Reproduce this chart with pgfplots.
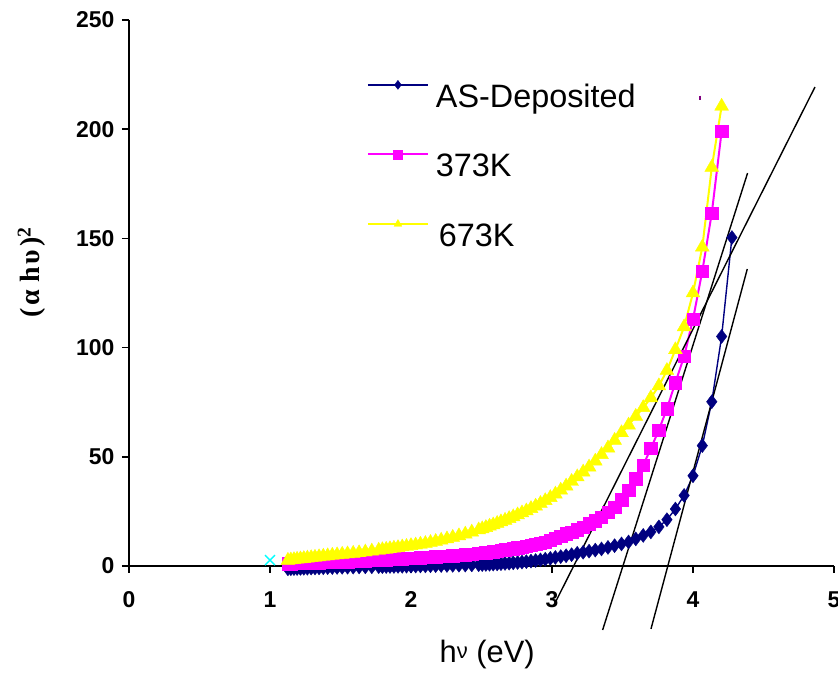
\documentclass[border=0pt]{standalone}
\usepackage{fontspec}
\setmainfont{Liberation Sans}
\newfontfamily\serifb{Liberation Serif}
\usepackage{pgfplots}
\usepackage{pgfplotstable}
\pgfplotsset{compat=1.18}

\definecolor{navyb}{RGB}{0,0,128}
\definecolor{pinkm}{RGB}{255,0,255}
\definecolor{yellowy}{RGB}{255,255,0}
\definecolor{cyanx}{RGB}{0,255,255}
\definecolor{purplex}{RGB}{128,0,128}

% hv (eV), (alpha h v)^2 for the three films
\pgfplotstableread{
x     asdep  k373   k673
1.127 -1.3   1.0    2.6
1.148 -1.25  1.1    2.75
1.170 -1.2   1.2    2.9
1.192 -1.15  1.25   3.1
1.216 -1.1   1.3    3.25
1.240 -1.05  1.35   3.4
1.265 -1.0   1.4    3.6
1.292 -0.95  1.45   3.8
1.319 -0.9   1.5    4.0
1.348 -0.85  1.55   4.2
1.378 -0.8   1.65   4.45
1.409 -0.75  1.7    4.65
1.442 -0.7   1.8    4.9
1.476 -0.65  1.85   5.1
1.512 -0.6   1.95   5.35
1.550 -0.55  2.05   5.55
1.590 -0.5   2.15   5.8
1.632 -0.45  2.3    6.05
1.676 -0.4   2.4    6.4
1.722 -0.35  2.55   6.8
1.771 -0.3   2.7    7.2
1.797 -0.28  2.8    7.45
1.824 -0.25  2.9    7.65
1.851 -0.22  3.0    7.9
1.879 -0.2   3.1    8.15
1.908 -0.17  3.2    8.4
1.938 -0.14  3.35   8.7
1.968 -0.1   3.45   8.95
2.000 -0.06  3.6    9.3
2.033 -0.02  3.7    9.6
2.067 0.02   3.85   9.95
2.102 0.06   4.0    10.3
2.138 0.1    4.1    10.75
2.175 0.15   4.25   11.25
2.214 0.2    4.4    11.8
2.255 0.25   4.6    12.4
2.296 0.3    4.75   13.1
2.340 0.36   4.95   13.8
2.385 0.42   5.2    14.6
2.431 0.5    5.5    15.5
2.480 0.6    5.8    16.5
2.505 0.66   5.95   17.0
2.531 0.72   6.15   17.6
2.557 0.8    6.35   18.2
2.583 0.88   6.6    18.8
2.611 0.97   6.85   19.5
2.638 1.07   7.1    20.2
2.667 1.18   7.4    20.9
2.696 1.3    7.7    21.7
2.725 1.45   8.0    22.5
2.756 1.6    8.35   23.4
2.787 1.8    8.7    24.3
2.818 2.0    9.0    25.2
2.851 2.25   9.5    26.3
2.884 2.5    10.0   27.4
2.918 2.8    10.5   28.6
2.952 3.1    11.0   29.9
2.988 3.5    11.7   31.3
3.024 3.9    12.6   32.9
3.062 4.3    13.7   34.7
3.100 4.7    14.7   36.6
3.139 5.2    15.6   38.7
3.179 5.8    16.6   40.8
3.221 6.3    17.8   43.0
3.263 6.8    19.3   45.3
3.307 7.3    20.8   48.0
3.351 7.8    22.4   51.0
3.397 8.5    24.5   54.0
3.444 9.3    27.0   57.5
3.493 10.1   30.4   61.0
3.543 11.0   34.8   64.5
3.594 12.4   40.0   68.5
3.647 14.0   46.2   72.5
3.701 15.6   53.8   77.0
3.758 17.9   62.3   82.5
3.815 21.2   72.0   89.5
3.875 26.1   84.0   99.0
3.937 32.3   96.0   109.5
4.000 41.3   113.0  125.0
4.066 55.1   135.0  146.0
4.133 75.2   161.5  182.5
4.203 105.1  199.0  210.5
4.276 150.4  nan    nan
}\data

\begin{document}
\begin{tikzpicture}
\begin{axis}[
    at={(129bp,107bp)}, anchor=south west,
    scale only axis, width=705bp, height=546bp,
    xmin=0, xmax=5, ymin=0, ymax=250,
    axis x line=bottom, axis y line=left,
    axis line style={-, line width=1.6bp},
    xtick={0,1,2,3,4,5}, ytick={0,50,100,150,200,250},
    tick align=outside, major tick length=7bp,
    tick style={line width=1.6bp, black},
    /pgf/number format/assume math mode=true,
    ticklabel style={font=\bfseries\fontsize{23}{23}\selectfont},
    xticklabel style={yshift=-15bp},
    yticklabel style={xshift=-4bp},
    xlabel={h\raisebox{4bp}{\fontsize{22}{22}\selectfont ν} (eV)},
    xlabel style={font=\fontsize{31}{31}\selectfont, at={(axis description cs:0.508,0)}, anchor=base, yshift=-96bp},
    ylabel={\serifb\bfseries (\hspace{3bp}α\hspace{7bp}h\hspace{3bp}υ\hspace{3bp})\textsuperscript{2}},
    ylabel style={font=\fontsize{28}{28}\selectfont, at={(axis description cs:-0.138,0.538)}, anchor=center},
    clip=false,
    legend style={draw=none, fill=none, at={(axis description cs:0.333,0.894)}, anchor=north west,
      row sep=60bp, font=\fontsize{32.5}{36}\selectfont},
    legend cell align=left,
    legend image code/.code={\draw[mark repeat=2,mark phase=2,#1] plot coordinates {(0bp,0bp) (30bp,0bp) (60bp,0bp)};},
    legend image post style={mark size=4.5bp},
  ]
  \addplot[color=navyb, line width=1.4bp, mark=diamond*, mark size=7bp, mark options={fill=navyb, line width=0.4bp}] table[x=x, y=asdep] {\data};
  \addlegendentry{\raisebox{-21bp}{\strut\hspace{5bp}AS-Deposited}}
  \addplot[color=pinkm, line width=2bp, mark=square*, mark size=6.2bp, mark options={fill=pinkm, line width=0.4bp}] table[x=x, y=k373] {\data};
  \addlegendentry{\raisebox{-21bp}{\strut\hspace{5bp}373K}}
  \addplot[color=yellowy, line width=2bp, mark=triangle*, mark size=8bp, mark options={fill=yellowy, line width=0.4bp}] table[x=x, y=k673] {\data};
  \addlegendentry{\raisebox{-21bp}{\strut\hspace{8bp}673K}}
  % tangent lines
  \addplot[black, line width=1.4bp, no marks, forget plot] coordinates {(3.014,-17.9) (4.865,219.3)};
  \addplot[black, line width=1.4bp, no marks, forget plot] coordinates {(3.359,-29.3) (4.387,179.9)};
  \addplot[black, line width=1.4bp, no marks, forget plot] coordinates {(3.702,-28.8) (4.385,136.0)};
  % stray points
  \addplot[cyanx, only marks, mark=x, mark size=7bp, line width=1.4bp, forget plot] coordinates {(1,2.7)};
  \addplot[purplex, only marks, mark=|, mark size=2bp, line width=2bp, forget plot] coordinates {(4.050,214.4)};
\end{axis}
\pgfresetboundingbox
\useasboundingbox (0,0) rectangle (838bp,673bp);
\end{tikzpicture}
\end{document}
